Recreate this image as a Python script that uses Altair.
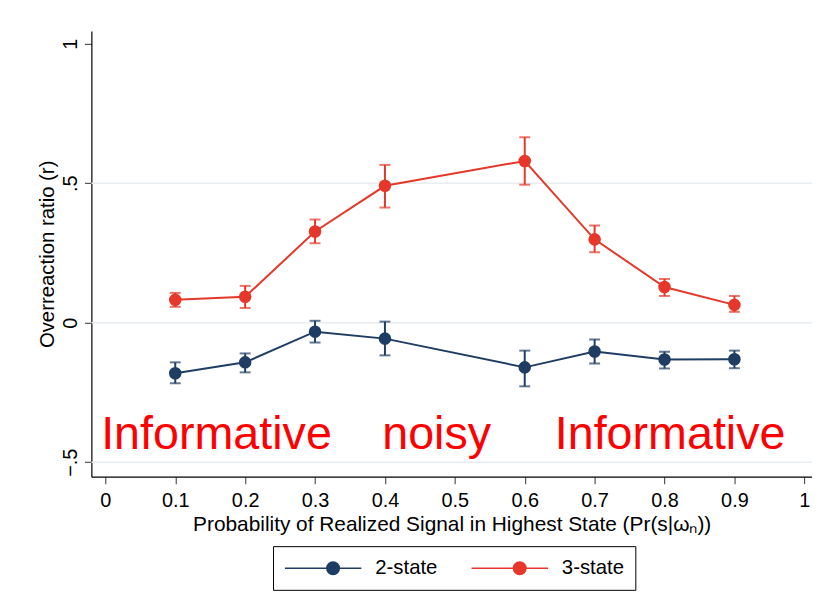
import altair as alt
import pandas as pd

# ---- data ----
x_vals = [0.1, 0.2, 0.3, 0.4, 0.6, 0.7, 0.8, 0.9]

two_mean = [-0.181, -0.142, -0.032, -0.057, -0.160, -0.103, -0.132, -0.131]
two_hi = [-0.142, -0.110, 0.007, 0.004, -0.100, -0.060, -0.104, -0.100]
two_lo = [-0.217, -0.178, -0.071, -0.117, -0.228, -0.146, -0.164, -0.163]

three_mean = [0.082, 0.093, 0.327, 0.491, 0.580, 0.299, 0.128, 0.064]
three_hi = [0.107, 0.132, 0.370, 0.566, 0.665, 0.349, 0.157, 0.096]
three_lo = [0.057, 0.053, 0.285, 0.413, 0.495, 0.253, 0.096, 0.039]

series_names = ["2-state", "3-state"]
series_colors = ["#1f3d63", "#e5382a"]

x_ticks = [0, 0.1, 0.2, 0.3, 0.4, 0.5, 0.6, 0.7, 0.8, 0.9, 1]
y_ticks = [-0.5, 0, 0.5, 1]
grid_vals = [-0.5, 0, 0.5]

ann_text = ["Informative", "noisy", "Informative"]
ann_x = [0.159, 0.474, 0.808]
ann_y = [-0.452, -0.452, -0.452]

# ---- tables ----
rows = []
for name, m, hi, lo in [("2-state", two_mean, two_hi, two_lo),
                        ("3-state", three_mean, three_hi, three_lo)]:
    for xv, a, b, c in zip(x_vals, m, hi, lo):
        rows.append({"x": xv, "r": a, "hi": b, "lo": c, "series": name})
df = pd.DataFrame(rows)
grid_df = pd.DataFrame({"g": grid_vals})
ann_df = pd.DataFrame({"label": ann_text, "x": ann_x, "y": ann_y})

FONT = "Liberation Sans"

xscale = alt.Scale(domain=[-0.02, 1.011], nice=False, zero=False)
yscale = alt.Scale(domain=[-0.552, 1.046], nice=False, zero=False)

# legend symbol: a line with a dot in its middle (unit = 10px)
sym_path = ("M-1,0H6.7M4.48,0A0.63,0.63,0,1,1,3.22,0"
            "A0.63,0.63,0,1,1,4.48,0Z")

legend = alt.Legend(
    title=None, orient="none", legendX=183, legendY=519,
    direction="horizontal", symbolType=sym_path, symbolSize=400,
    symbolStrokeWidth=1.5, symbolOpacity=1,
    labelFont=FONT, labelFontSize=20.5, labelColor="black",
    labelOffset=70, columnPadding=31, padding=11,
    strokeColor="black", cornerRadius=0,
)
color = alt.Color("series:N",
                  scale=alt.Scale(domain=series_names, range=series_colors),
                  legend=legend)

x_axis = alt.Axis(
    values=x_ticks, format="~g", title="Probability of Realized Signal in Highest State (Pr(s|ω\u2099))",
    grid=False, domainColor="black", domainWidth=1.2, tickColor="#555555",
    tickSize=7, tickWidth=1.2, labelFont=FONT, labelFontSize=20, labelColor="black",
    labelBaseline="alphabetic", labelPadding=23, labelFlush=False,
    titleFont=FONT, titleFontSize=21, titleFontWeight="normal", titleColor="black",
    titleBaseline="alphabetic", titleY=54, titleX=363)
y_axis = alt.Axis(
    values=y_ticks, title="Overreaction ratio (r)",
    labelExpr="datum.value == 0 ? '0' : replace(format(datum.value, '~g'), '0.', '.')",
    grid=False, domainColor="black", domainWidth=1.2, tickColor="#555555",
    tickSize=7, tickWidth=1.2, labelFont=FONT, labelFontSize=20, labelColor="black",
    labelAngle=270, labelAlign="center", labelBaseline="bottom", labelPadding=4,
    labelFlush=False,
    titleFont=FONT, titleFontSize=20.5, titleFontWeight="normal", titleColor="black",
    titleAngle=270, titleBaseline="bottom", titleX=-34, titleY=224.5)


def X(field):
    return alt.X(field, scale=xscale, axis=x_axis)


def Y(field):
    return alt.Y(field, scale=yscale, axis=y_axis)


base = alt.Chart(df)

grid = alt.Chart(grid_df).mark_rule(color="#e8edf2", strokeWidth=1.5).encode(
    y=Y("g:Q"))

ann = alt.Chart(ann_df).mark_text(
    font=FONT, fontSize=47, color="#ff0000", baseline="alphabetic", align="center"
).encode(x=X("x:Q"), y=Y("y:Q"), text="label:N")

bars = base.mark_rule(strokeWidth=2).encode(
    x=X("x:Q"), y=Y("lo:Q"), y2="hi:Q", color=color)
cap_hi = base.mark_tick(orient="horizontal", size=11, thickness=2).encode(
    x=X("x:Q"), y=Y("hi:Q"), color=color)
cap_lo = base.mark_tick(orient="horizontal", size=11, thickness=2).encode(
    x=X("x:Q"), y=Y("lo:Q"), color=color)
lines = base.mark_line(strokeWidth=2).encode(
    x=X("x:Q"), y=Y("r:Q"), color=color)
points = base.mark_point(filled=True, size=160, opacity=1, shape="circle").encode(
    x=X("x:Q"), y=Y("r:Q"), color=color)

chart = alt.layer(grid, ann, bars, cap_hi, cap_lo, lines, points).properties(
    width=726, height=449,
    autosize=alt.AutoSizeParams(type="none"),
    padding={"left": 84, "top": 21, "right": 0, "bottom": 115},
    background="white",
).configure_view(stroke=None)

chart.save("out.html", embed_options={"renderer": "svg", "actions": False})
